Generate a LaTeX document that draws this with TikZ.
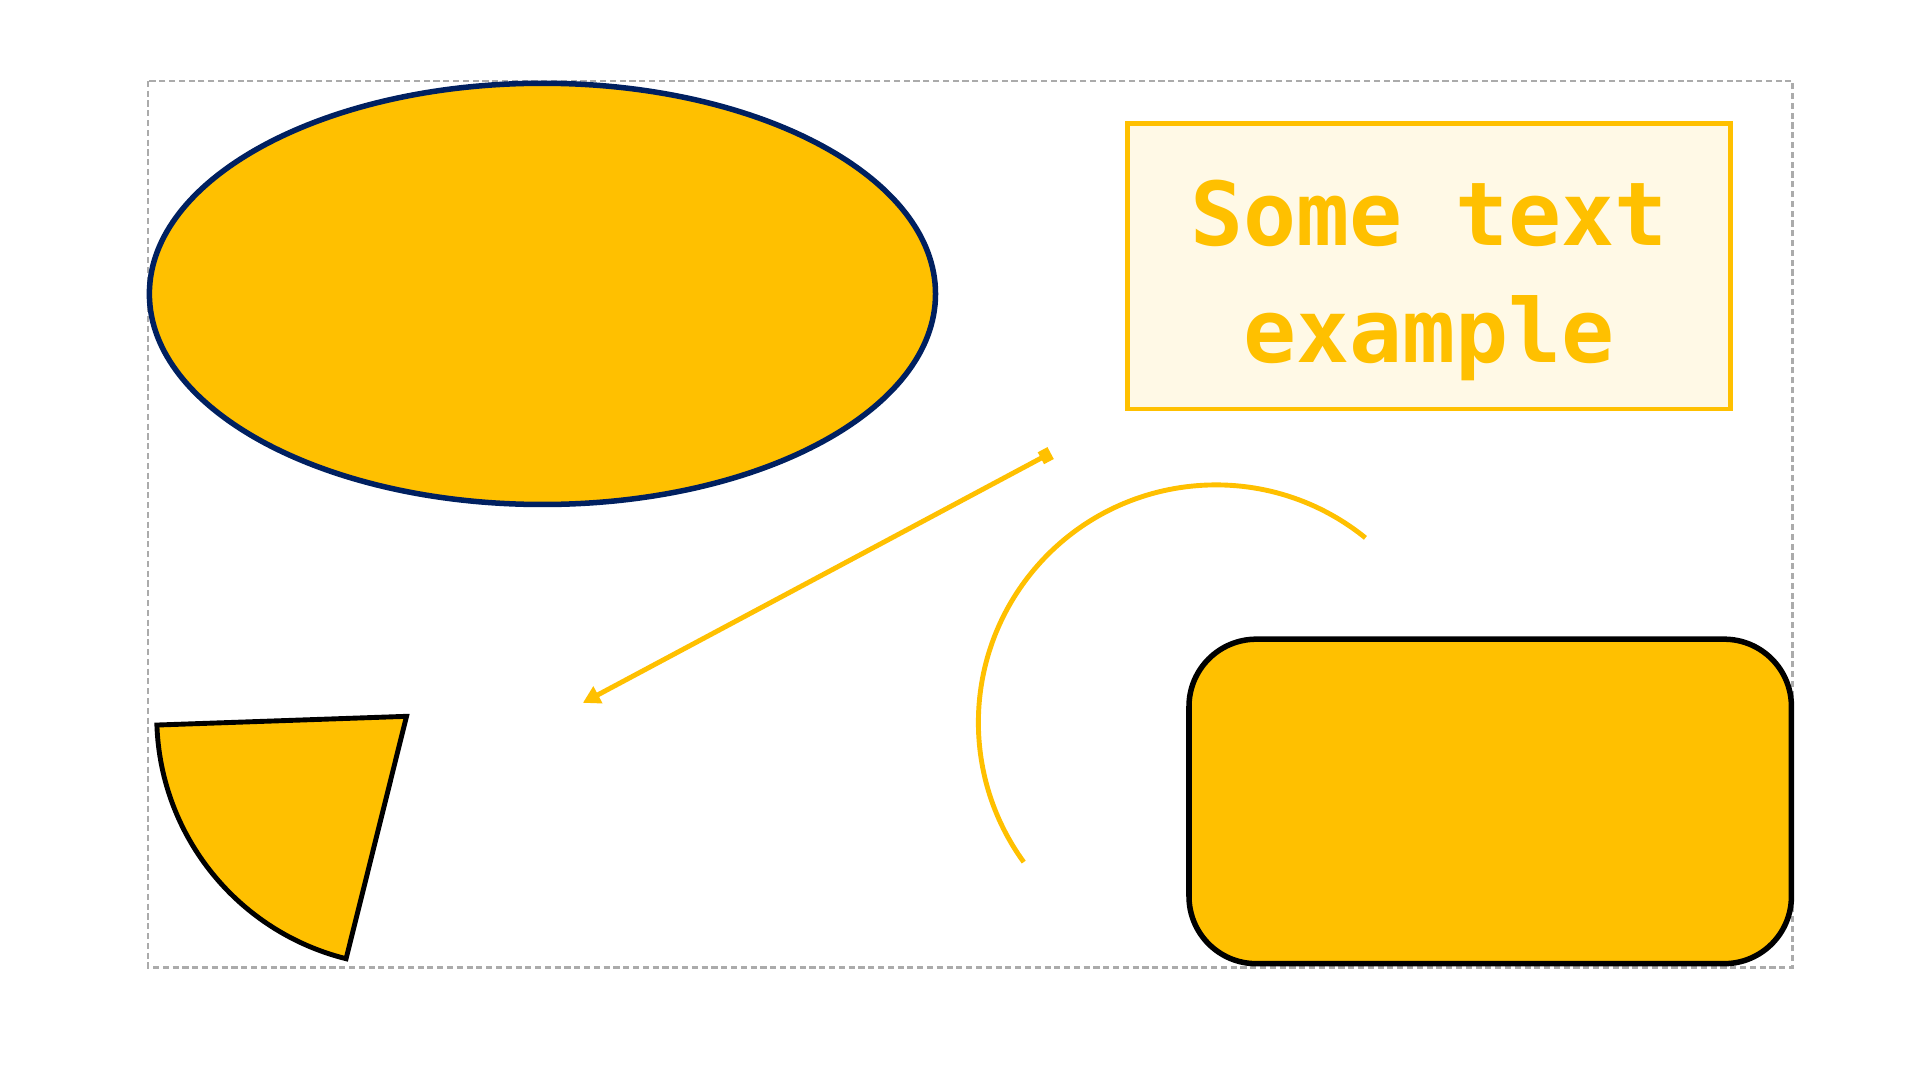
\documentclass[tikz,border=0pt]{standalone}
\usepackage{fontspec}
\newfontfamily\monob{DejaVu Sans Mono}
\usetikzlibrary{shapes.geometric,arrows.meta}
\definecolor{gold}{HTML}{FFC000}
\definecolor{navy}{HTML}{002060}
\definecolor{cream}{HTML}{FFF9E6}
\definecolor{dashgray}{HTML}{ABABAB}
\tikzset{
  frame/.style={draw=dashgray, line width=2pt, dash pattern=on 5pt off 3pt},
  goldline/.style={draw=gold, line width=4pt},
  blackedge/.style={draw=black, fill=gold, line width=4pt},
}
\begin{document}
\begin{tikzpicture}[x=1pt,y=-1pt]
\useasboundingbox (0,0) rectangle (1568,882);
\draw[frame] (121,66) rectangle (1464,790);
\node[ellipse, draw=navy, fill=gold, line width=4.5pt, minimum width=642pt, minimum height=344pt, inner sep=0pt] (ell) at (443,240) {};
\node[draw=gold, fill=cream, line width=4pt, minimum width=492pt, minimum height=233pt, inner sep=0pt, text=gold, font=\monob\bfseries\fontsize{72}{95}\selectfont, align=center] (txt) at (1167,217.5) {};
\node[text=gold, font=\monob\bfseries\fontsize{72}{95}\selectfont, align=center, inner sep=0pt] (txtlabel) at (1167,229) {Some text\\example};
\node[blackedge, line width=4.5pt, rounded corners=55pt, minimum width=492pt, minimum height=265pt, inner sep=0pt] (rr) at (1217,654.5) {};
\coordinate (a1) at (858,370);
\coordinate (a2) at (476,574);
\draw[goldline, {Square[length=9pt,width=11pt]}-{Triangle[length=14pt,width=15pt]}] (a1) -- (a2);
\draw[goldline] (993,590) ++(-51:194) arc[start angle=-51, end angle=-216, radius=194];
\draw[blackedge, line join=miter] (332,585) -- ++(-182:204) arc[start angle=-182, end angle=-256, radius=204] -- cycle;
\end{tikzpicture}
\end{document}
